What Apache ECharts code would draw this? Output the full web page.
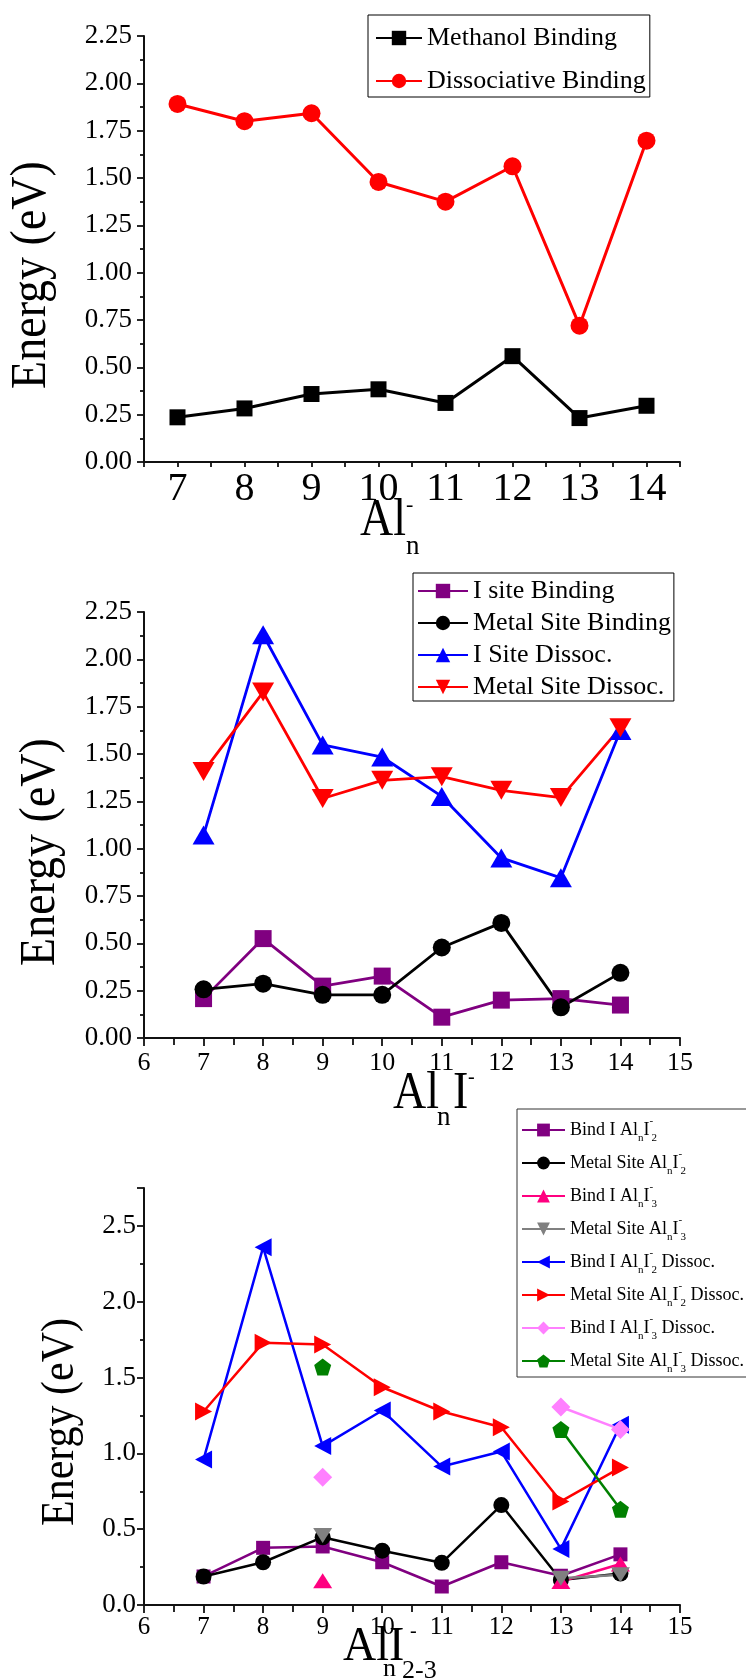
<!DOCTYPE html>
<html>
<head>
<meta charset="utf-8">
<script src="https://cdn.jsdelivr.net/npm/echarts@6/dist/echarts.min.js"></script>
<style>html,body{margin:0;background:#fff}#chart{width:746px;height:1679px}</style>
</head>
<body>
<div id="chart"></div>
<script>
(function () {
  "use strict";

  var serif = "'Liberation Serif', 'Times New Roman', serif";
  var clusterSizes = [7, 8, 9, 10, 11, 12, 13, 14];

  // Al_n^-
  var methanolBinding = [0.236, 0.283, 0.359, 0.384, 0.312, 0.559, 0.232, 0.297];
  var dissociativeBinding = [1.891, 1.800, 1.842, 1.479, 1.375, 1.562, 0.720, 1.697];

  // Al_nI^-
  var iSiteBinding = [0.208, 0.525, 0.274, 0.327, 0.110, 0.200, 0.208, 0.174];
  var metalSiteBinding = [0.257, 0.287, 0.228, 0.228, 0.478, 0.608, 0.162, 0.344];
  var iSiteDissoc = [1.072, 2.130, 1.548, 1.484, 1.276, 0.951, 0.846, 1.624];
  var metalSiteDissoc = [1.408, 1.827, 1.265, 1.361, 1.380, 1.308, 1.270, 1.639];

  // Al_nI_2-3^-
  var bindI2 = [0.188, 0.377, 0.386, 0.282, 0.122, 0.282, 0.193, 0.334];
  var metalI2 = [0.188, 0.282, 0.447, 0.358, 0.278, 0.659, 0.165, 0.207];
  var bindI3 = [null, null, 0.160, null, null, null, 0.155, 0.270];
  var metalI3 = [null, null, 0.459, null, null, null, 0.177, 0.200];
  var bindI2Dissoc = [0.960, 2.359, 1.048, 1.283, 0.913, 1.012, 0.370, 1.189];
  var metalI2Dissoc = [1.276, 1.730, 1.718, 1.436, 1.276, 1.172, 0.683, 0.906];
  var bindI3Dissoc = [null, null, 0.843, null, null, null, 1.306, 1.158];
  var metalI3Dissoc = [null, null, 1.570, null, null, null, 1.158, 0.631];

  var names1 = ["Methanol Binding", "Dissociative Binding"];
  var names2 = ["I site Binding", "Metal Site Binding", "I Site Dissoc.", "Metal Site Dissoc."];
  var names3 = ["Bind I AlnI2", "Metal Site AlnI2", "Bind I AlnI3", "Metal Site AlnI3",
    "Bind I AlnI2 Dissoc.", "Metal Site AlnI2 Dissoc.", "Bind I AlnI3 Dissoc.", "Metal Site AlnI3 Dissoc."];
  var prefix3 = ["Bind I", "Metal Site", "Bind I", "Metal Site", "Bind I", "Metal Site", "Bind I", "Metal Site"];
  var count3 = ["2", "2", "3", "3", "2", "2", "3", "3"];
  var suffix3 = ["", "", "", "", " Dissoc.", " Dissoc.", " Dissoc.", " Dissoc."];

  var pentagon = "path://M0,-10L9.51,-3.09L5.88,8.09L-5.88,8.09L-9.51,-3.09Z";
  var axisColor = "#111";

  function pairs(values) {
    return clusterSizes.map(function (x, i) { return [x, values[i]]; });
  }

  function line(name, values, color, symbol, size, idx, width, rotate) {
    return {
      name: name, type: "line", xAxisIndex: idx, yAxisIndex: idx,
      data: pairs(values), symbol: symbol, symbolSize: size, symbolRotate: rotate || 0,
      showAllSymbol: true, connectNulls: false, animation: false,
      lineStyle: { color: color, width: width },
      itemStyle: { color: color, borderWidth: 0 }
    };
  }

  function isInt(v) { return Math.abs(v - Math.round(v)) < 1e-6; }

  function xAxis(idx, min, max, interval, fontSize, margin, tickLen, minor) {
    return {
      gridIndex: idx, type: "value", min: min, max: max, interval: interval,
      axisLine: { onZero: false, lineStyle: { color: axisColor, width: 2 } },
      axisTick: { length: tickLen, lineStyle: { color: axisColor, width: 1.8 } },
      minorTick: { show: minor, splitNumber: 2, length: tickLen - 1, lineStyle: { color: axisColor, width: 1.8 } },
      splitLine: { show: false },
      axisLabel: {
        margin: margin, color: "#000", fontFamily: serif, fontSize: fontSize,
        formatter: function (v) { return isInt(v) ? String(Math.round(v)) : ""; }
      }
    };
  }

  function yAxis(idx, max, interval, digits, fontSize, margin) {
    return {
      gridIndex: idx, type: "value", min: 0, max: max, interval: interval,
      axisLine: { show: true, onZero: false, lineStyle: { color: axisColor, width: 2 } },
      axisTick: { show: true, length: 7, lineStyle: { color: axisColor, width: 1.8 } },
      minorTick: { show: true, splitNumber: 2, length: 4, lineStyle: { color: axisColor, width: 1.8 } },
      splitLine: { show: false },
      axisLabel: {
        margin: margin, color: "#000", fontFamily: serif, fontSize: fontSize,
        formatter: function (v) { return isInt(v / interval) ? v.toFixed(digits) : ""; }
      }
    };
  }

  function label3(name) {
    var i = names3.indexOf(name);
    var s = "{t|" + prefix3[i] + " Al}{sub|n}{t|I}{sup|-}{sub|" + count3[i] + "}";
    if (suffix3[i]) s += "{t|" + suffix3[i] + "}";
    return s;
  }

  // the source figure is slightly stretched vertically, so big titles get a scaleY
  function txt(x, y, text, size, extra) {
    var el = { type: "text", x: x, y: y, silent: true,
      style: { text: text, fontSize: size, fontFamily: serif, fill: "#000", align: "left", verticalAlign: "middle" } };
    if (extra) for (var k in extra) el[k] = extra[k];
    return el;
  }

  function yTitle(x, y, size) {
    var el = txt(x, y, "Energy (eV)", size, { rotation: Math.PI / 2, scaleY: 1.12 });
    el.style.align = "center";
    return el;
  }

  var tall = { scaleY: 1.14 };
  var legendText = { fontFamily: serif, fontSize: 26, color: "#000", lineHeight: 26 };

  var chart = echarts.init(document.getElementById("chart"));
  chart.setOption({
    backgroundColor: "#fff",
    animation: false,
    grid: [
      { left: 144, top: 36, width: 536, height: 426 },
      { left: 144, top: 612, width: 536, height: 426 },
      { left: 144, top: 1188, width: 536, height: 417 }
    ],
    xAxis: [
      xAxis(0, 6.5, 14.5, 0.5, 40, 7, 5, false),
      xAxis(1, 6, 15, 1, 26, 12, 8, true),
      xAxis(2, 6, 15, 1, 25, 10, 8, true)
    ],
    yAxis: [
      yAxis(0, 2.25, 0.25, 2, 27, 12),
      yAxis(1, 2.25, 0.25, 2, 27, 12),
      yAxis(2, 2.75, 0.5, 1, 27, 8)
    ],
    legend: [
      {
        data: names1, orient: "vertical", left: 368, top: 15,
        padding: [10, 4, 3, 7], itemGap: 17, itemWidth: 46, itemHeight: 18,
        borderColor: "#000", borderWidth: 1, selectedMode: false, textStyle: legendText
      },
      {
        data: names2, orient: "vertical", left: 413, top: 573,
        padding: [5, 3, 1, 4], itemGap: 6, itemWidth: 50, itemHeight: 18,
        borderColor: "#000", borderWidth: 1, selectedMode: false, textStyle: legendText
      },
      {
        data: names3, orient: "vertical", left: 517, top: 1109,
        padding: [7, 10, 2, 4], itemGap: 5, itemWidth: 43, itemHeight: 16,
        borderColor: "#333", borderWidth: 1, selectedMode: false,
        formatter: label3,
        textStyle: {
          fontFamily: serif, fontSize: 18, color: "#000",
          rich: {
            t: { fontFamily: serif, fontSize: 18, lineHeight: 28, color: "#000" },
            sub: { fontFamily: serif, fontSize: 11, lineHeight: 8, verticalAlign: "bottom", color: "#000" },
            sup: { fontFamily: serif, fontSize: 11, lineHeight: 14, verticalAlign: "top", width: 2, color: "#000" }
          }
        }
      }
    ],
    graphic: [
      yTitle(31, 275, 46),
      yTitle(40, 852, 46),
      yTitle(61, 1422, 42),
      txt(360, 521, "Al", 46, tall), txt(406, 505, "-", 22), txt(406, 547, "n", 27),
      txt(393, 1094, "Al", 46, tall), txt(437, 1118, "n", 27), txt(453, 1094, "I", 46, tall), txt(468, 1078, "-", 20),
      txt(343, 1647, "Al", 46, { scaleY: 1.05 }), txt(389, 1647, "I", 46, { scaleY: 1.05 }), txt(410, 1632, "-", 20),
      txt(383, 1669, "n", 26), txt(402, 1671, "2-3", 26)
    ],
    series: [
      line(names1[0], methanolBinding, "#000000", "rect", 16, 0, 3),
      line(names1[1], dissociativeBinding, "#ff0000", "circle", 18, 0, 3),

      line(names2[0], iSiteBinding, "#800080", "rect", 17, 1, 2.8),
      line(names2[1], metalSiteBinding, "#000000", "circle", 18, 1, 2.8),
      line(names2[2], iSiteDissoc, "#0000ff", "triangle", [22, 19], 1, 2.8),
      line(names2[3], metalSiteDissoc, "#ff0000", "triangle", [22, 19], 1, 2.8, 180),

      line(names3[0], bindI2, "#800080", "rect", 14, 2, 2.5),
      line(names3[1], metalI2, "#000000", "circle", 16, 2, 2.5),
      line(names3[2], bindI3, "#ff0080", "triangle", [19, 15], 2, 2.5),
      line(names3[3], metalI3, "#808080", "triangle", [19, 15], 2, 2.5, 180),
      line(names3[4], bindI2Dissoc, "#0000ff", "triangle", [18, 17], 2, 2.5, 90),
      line(names3[5], metalI2Dissoc, "#ff0000", "triangle", [18, 17], 2, 2.5, -90),
      line(names3[6], bindI3Dissoc, "#ff80ff", "diamond", 19, 2, 2.5),
      line(names3[7], metalI3Dissoc, "#008000", pentagon, 17, 2, 2.5)
    ]
  });
  window.addEventListener("resize", function () { chart.resize(); });
})();
</script>
</body>
</html>
